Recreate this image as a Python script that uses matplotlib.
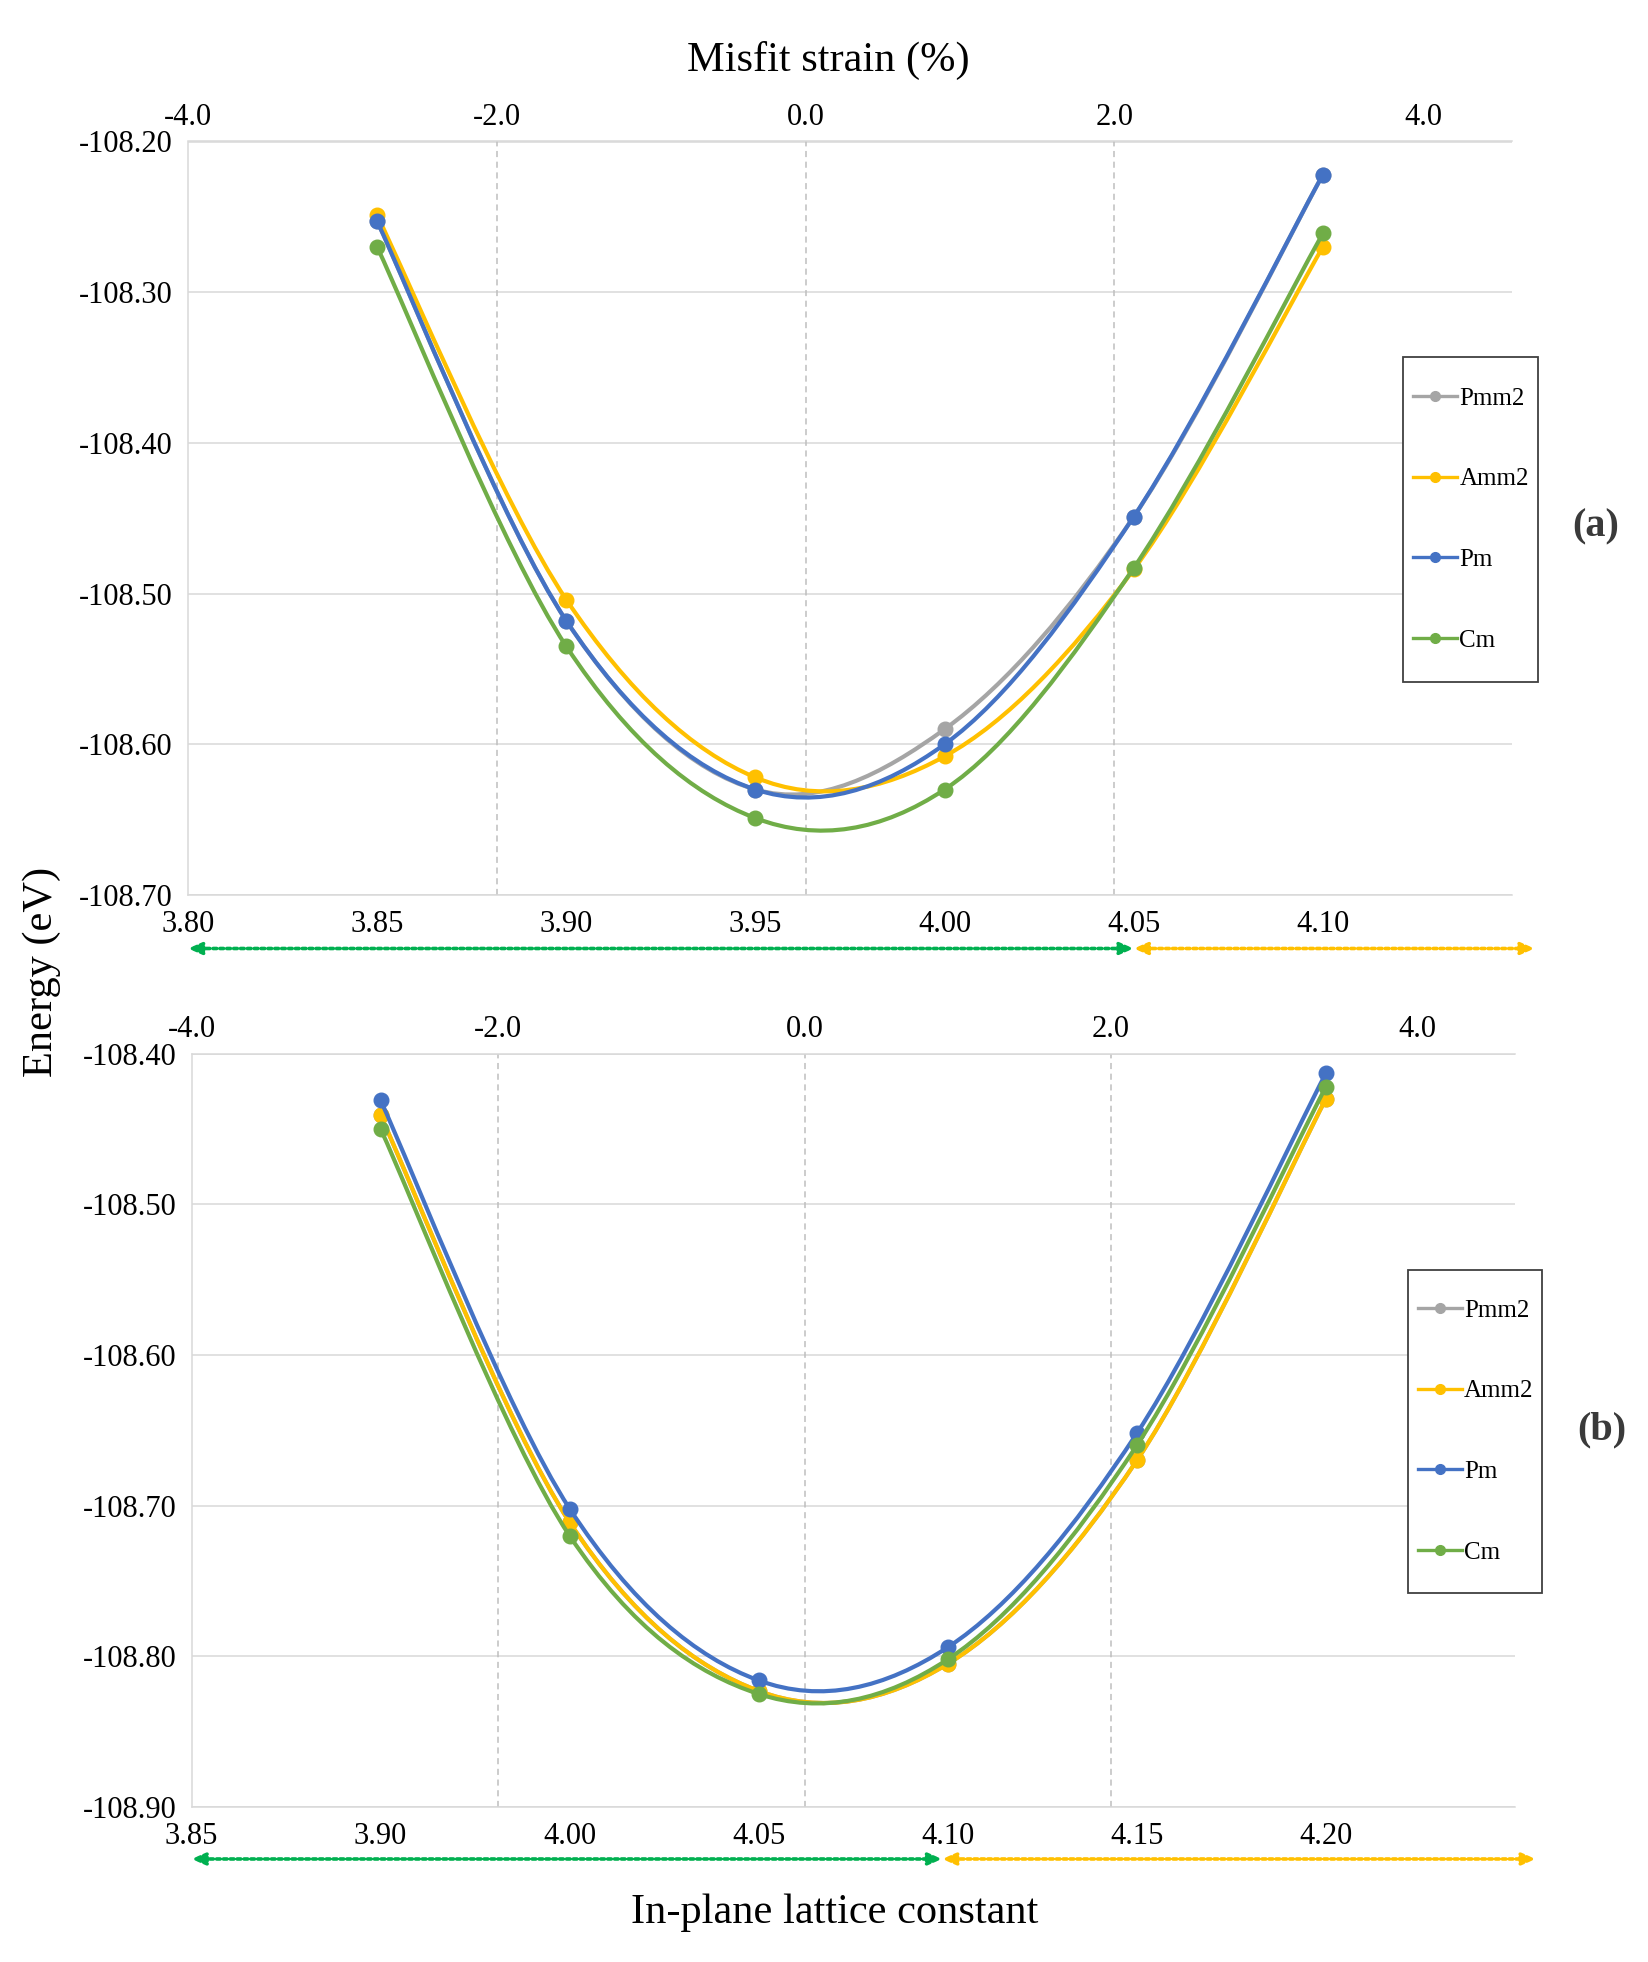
import numpy as np
import matplotlib
matplotlib.use("Agg")
import matplotlib.pyplot as plt
from matplotlib.path import Path
from matplotlib.patches import PathPatch, Rectangle
from matplotlib.lines import Line2D

plt.rcParams["font.family"] = ["Liberation Serif", "DejaVu Serif"]

# ---------------- data ----------------
phases = ["Pmm2", "Amm2", "Pm", "Cm"]
colors = ["#A5A5A5", "#FFC000", "#4472C4", "#70AD47"]

# panel (a)
lattice_a = ["3.85", "3.90", "3.95", "4.00", "4.05", "4.10"]
xlabels_a = ["3.80", "3.85", "3.90", "3.95", "4.00", "4.05", "4.10"]
pmm2_a = [-108.253, -108.518, -108.630, -108.590, -108.449, -108.222]
amm2_a = [-108.249, -108.504, -108.622, -108.608, -108.484, -108.270]
pm_a = [-108.253, -108.518, -108.630, -108.600, -108.449, -108.222]
cm_a = [-108.270, -108.535, -108.649, -108.630, -108.483, -108.261]
yticks_a = [-108.20, -108.30, -108.40, -108.50, -108.60, -108.70]

# panel (b)
lattice_b = ["3.90", "4.00", "4.05", "4.10", "4.15", "4.20"]
xlabels_b = ["3.85", "3.90", "4.00", "4.05", "4.10", "4.15", "4.20"]
pmm2_b = [-108.441, -108.711, -108.823, -108.805, -108.670, -108.430]
amm2_b = [-108.441, -108.711, -108.823, -108.805, -108.670, -108.430]
pm_b = [-108.431, -108.702, -108.816, -108.794, -108.652, -108.413]
cm_b = [-108.450, -108.720, -108.825, -108.802, -108.660, -108.422]
yticks_b = [-108.40, -108.50, -108.60, -108.70, -108.80, -108.90]

strain_ticks = [-4.0, -2.0, 0.0, 2.0, 4.0]
strain_dashed = [-2.0, 0.0, 2.0]

W, H = 1648, 1962
fig = plt.figure(figsize=(W / 100, H / 100), dpi=100)


def smooth_path(x, y):
    """Excel風のスムージング線 (Catmull-Rom -> Bezier)"""
    x = np.asarray(x, float)
    y = np.asarray(y, float)
    n = len(x)
    verts = [(x[0], y[0])]
    codes = [Path.MOVETO]
    for i in range(n - 1):
        i0 = max(i - 1, 0)
        i3 = min(i + 2, n - 1)
        c1 = (x[i] + (x[i + 1] - x[i0]) / 6, y[i] + (y[i + 1] - y[i0]) / 6)
        c2 = (x[i + 1] - (x[i3] - x[i]) / 6, y[i + 1] - (y[i3] - y[i]) / 6)
        verts += [c1, c2, (x[i + 1], y[i + 1])]
        codes += [Path.CURVE4] * 3
    return Path(verts, codes)


def draw_panel(rect, lattice, xlabels, series, yticks, p0, k,
               green_end, yellow_end, arrow_y, box, handle_x, tag, tag_xy):
    ax = fig.add_axes(rect)
    pos = np.arange(len(lattice))

    for i, (vals, c) in enumerate(zip(series, colors)):
        ax.add_patch(PathPatch(smooth_path(pos, vals), fill=False,
                               edgecolor=c, lw=3.0, zorder=3 + i,
                               capstyle="round"))
        ax.plot(pos, vals, "o", ms=10.5, color=c, zorder=3 + i)

    ax.set_xlim(-1, len(lattice))
    ax.set_ylim(yticks[-1], yticks[0])
    ax.set_xticks(np.arange(-1, len(lattice)))
    ax.set_xticklabels(xlabels)
    ax.set_yticks(yticks)
    ax.set_yticklabels([f"{v:.2f}" for v in yticks])
    ax.tick_params(axis="x", length=0, pad=11, labelsize=22)
    ax.tick_params(axis="y", length=0, pad=11, labelsize=22)
    ax.grid(axis="y", color="#D9D9D9", lw=1.1)
    ax.set_axisbelow(True)
    for side in ["left", "top", "bottom"]:
        ax.spines[side].set_color("#D9D9D9")
        ax.spines[side].set_linewidth(1.1)
    ax.spines["right"].set_visible(False)

    # 上側: misfit strain 軸
    sec = ax.secondary_xaxis("top", functions=(lambda p: (p - p0) / k,
                                               lambda s: p0 + k * s))
    sec.set_xticks(strain_ticks)
    sec.set_xticklabels([f"{s:.1f}" for s in strain_ticks])
    sec.tick_params(length=0, pad=7, labelsize=22)
    sec.spines["top"].set_visible(False)

    for s in strain_dashed:
        ax.axvline(p0 + k * s, color="#BFBFBF", lw=1.1, dashes=(4, 3),
                   zorder=2)

    # 下の矢印
    for x0, x1, c in [(-1, green_end, "#00B050"),
                      (green_end, yellow_end, "#FFC000")]:
        ax.annotate("", xy=(x1, arrow_y), xytext=(x0, arrow_y),
                    xycoords=("data", "axes fraction"),
                    textcoords=("data", "axes fraction"),
                    annotation_clip=False,
                    arrowprops=dict(arrowstyle="<|-|>,head_length=0.8,head_width=0.35",
                                    mutation_scale=10, color=c, lw=2.6,
                                    linestyle=(0, (1.0, 0.9)),
                                    shrinkA=0, shrinkB=0))

    # 凡例 (枠は別に描く)
    x0, y0, x1, y1 = box
    fig.add_artist(Rectangle((x0 / W, 1 - y1 / H), (x1 - x0) / W, (y1 - y0) / H,
                             transform=fig.transFigure, facecolor="white",
                             edgecolor="#404040", lw=1.3, zorder=4))
    handles = [Line2D([0], [0], color=c, lw=2.4, marker="o", ms=7)
               for c in colors]
    fig.legend(handles, phases, loc="center left",
               bbox_to_anchor=(handle_x / W, 1 - (y0 + y1) / 2 / H),
               frameon=False, borderpad=0, borderaxespad=0, fontsize=18,
               handlelength=1.75, handletextpad=0.1, labelspacing=2.33)

    fig.text(tag_xy[0], tag_xy[1], tag, fontsize=29, fontweight="bold",
             color="#3A3A3A", ha="center", va="center")
    return ax


draw_panel([188 / W, 1 - 895 / H, 1324 / W, 753.5 / H],
           lattice_a, xlabels_a, [pmm2_a, amm2_a, pm_a, cm_a], yticks_a,
           p0=2.266, k=0.816, green_end=4.0, yellow_end=6.12, arrow_y=-0.071,
           box=(1403, 357, 1538, 682), handle_x=1413, tag="(a)",
           tag_xy=(1596 / W, 1 - 527 / H))

draw_panel([191.5 / W, 1 - 1807 / H, 1323.5 / W, 753.4 / H],
           lattice_b, xlabels_b, [pmm2_b, amm2_b, pm_b, cm_b], yticks_b,
           p0=2.243, k=0.81, green_end=2.97, yellow_end=6.11, arrow_y=-0.069,
           box=(1408, 1270, 1542, 1593), handle_x=1418, tag="(b)",
           tag_xy=(1602 / W, 1 - 1430 / H))

fig.text(828 / W, 1 - 60 / H, "Misfit strain (%)", fontsize=30.5,
         ha="center", va="center")
fig.text(42 / W, 1 - 972 / H, "Energy (eV)", fontsize=30.5, rotation=90,
         ha="center", va="center")
fig.text(835 / W, 1 - 1913 / H, "In-plane lattice constant", fontsize=30.5,
         ha="center", va="center")

fig.savefig("out.png", dpi=100)
